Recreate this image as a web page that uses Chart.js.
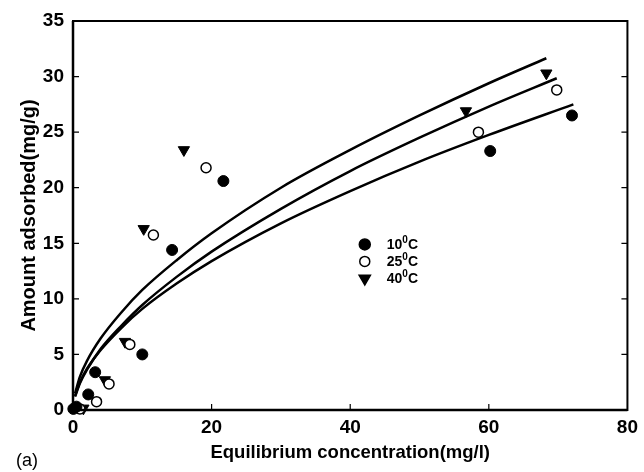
<!DOCTYPE html>
<html>
<head>
<meta charset="utf-8">
<script src="https://cdn.jsdelivr.net/npm/chart.js@4.4.1/dist/chart.umd.min.js"></script>
<style>
  html, body { margin: 0; padding: 0; background: #fff; }
  #wrap { width: 644px; height: 472px; position: relative; }
</style>
</head>
<body>
<div id="wrap"><canvas id="c" width="644" height="472"></canvas></div>
<script>
// Adsorption measurements: equilibrium concentration (mg/l) vs amount adsorbed (mg/g)
const conc10 = [0.05, 0.5, 2.2, 3.2, 10.0, 14.3, 21.7, 60.2, 72.0];
const ads10  = [0.1, 0.3, 1.4, 3.4, 5.0, 14.4, 20.6, 23.3, 26.5];

const conc25 = [1.0, 3.4, 5.2, 8.2, 11.6, 19.2, 58.5, 69.8];
const ads25  = [0.1, 0.75, 2.35, 5.9, 15.75, 21.8, 25.0, 28.8];

const conc40 = [1.5, 4.6, 7.5, 10.2, 16.0, 56.7, 68.3];
const ads40  = [0.15, 2.7, 6.15, 16.3, 23.4, 26.9, 30.3];

// Isotherm model curves
const curveTopX = [0.3, 1, 2, 4, 7, 10, 15, 20, 30, 40, 50, 60, 68.3];
const curveTopY = [1.5, 3.0, 4.4, 6.45, 8.8, 10.8, 13.5, 15.9, 20.0, 23.4, 26.5, 29.4, 31.65];

const curveMidX = [0.3, 1, 2, 4, 7, 10, 15, 20, 30, 40, 50, 60, 69.8];
const curveMidY = [1.2, 2.4, 3.6, 5.5, 7.6, 9.45, 12.0, 14.25, 18.1, 21.5, 24.5, 27.3, 29.85];

const curveLowX = [0.3, 1, 2, 4, 7, 10, 15, 20, 30, 40, 50, 60, 72.2];
const curveLowY = [1.27, 2.5, 3.7, 5.4, 7.4, 9.1, 11.4, 13.4, 16.8, 19.7, 22.35, 24.75, 27.5];

const xTicks = [0, 20, 40, 60, 80];
const yTicks = [0, 5, 10, 15, 20, 25, 30, 35];

const legendItems = [
  { base: '10', style: 'circle', fill: '#000', rot: 0, r: 5.5 },
  { base: '25', style: 'circle', fill: '#fff', rot: 0, r: 5 },
  { base: '40', style: 'triangle', fill: '#000', rot: 180, r: 6.5 }
];

const FONT = "'Liberation Sans', Arial, Helvetica, sans-serif";

function pairs(xs, ys) { return xs.map((x, i) => ({ x: x, y: ys[i] })); }

function curve(xs, ys) {
  return {
    type: 'line', data: pairs(xs, ys), showLine: true,
    borderColor: '#000', borderWidth: 2.5, pointRadius: 0,
    cubicInterpolationMode: 'monotone', fill: false, order: 2
  };
}

// Frame, inward ticks, legend and panel tag
const decor = {
  id: 'decor',
  afterDraw(chart) {
    const ctx = chart.ctx;
    const a = chart.chartArea;
    const xs = chart.scales.x, ys = chart.scales.y;
    ctx.save();
    ctx.strokeStyle = '#000';
    ctx.lineCap = 'butt';
    // box
    ctx.lineWidth = 2;
    ctx.strokeRect(a.left, a.top, a.right - a.left, a.bottom - a.top);
    ctx.lineWidth = 2.5;
    ctx.beginPath();
    ctx.moveTo(a.left, a.top); ctx.lineTo(a.left, a.bottom); ctx.lineTo(a.right, a.bottom);
    ctx.stroke();
    // inward ticks
    ctx.lineWidth = 1.2;
    ctx.beginPath();
    xTicks.slice(1, -1).forEach(v => {
      const px = xs.getPixelForValue(v);
      ctx.moveTo(px, a.bottom); ctx.lineTo(px, a.bottom - 6);
    });
    yTicks.slice(1, -1).forEach(v => {
      const py = ys.getPixelForValue(v);
      ctx.moveTo(a.left, py); ctx.lineTo(a.left + 6, py);
      ctx.moveTo(a.right, py); ctx.lineTo(a.right - 6, py);
    });
    ctx.stroke();

    // legend
    const lx = xs.getPixelForValue(42.1);
    let ly = ys.getPixelForValue(14.9);
    const step = 17;
    legendItems.forEach(it => {
      ctx.fillStyle = it.fill;
      ctx.strokeStyle = '#000';
      ctx.lineWidth = 1.5;
      Chart.helpers.drawPoint(ctx, { pointStyle: it.style, radius: it.r, rotation: it.rot, borderWidth: 1.5 }, lx, ly);
      ctx.fillStyle = '#000';
      ctx.textBaseline = 'middle';
      ctx.textAlign = 'left';
      ctx.font = 'bold 14px ' + FONT;
      let tx = lx + 22;
      ctx.fillText(it.base, tx, ly + 1);
      tx += ctx.measureText(it.base).width;
      ctx.font = 'bold 10px ' + FONT;
      ctx.fillText('0', tx, ly - 4);
      tx += ctx.measureText('0').width;
      ctx.font = 'bold 14px ' + FONT;
      ctx.fillText('C', tx, ly + 1);
      ly += step;
    });

    // panel tag
    ctx.font = '18px ' + FONT;
    ctx.textAlign = 'left';
    ctx.textBaseline = 'alphabetic';
    ctx.fillText('(a)', 16, 466);
    ctx.restore();
  }
};

new Chart(document.getElementById('c'), {
  type: 'scatter',
  data: {
    datasets: [
      {
        label: '10\u00B0C', data: pairs(conc10, ads10), pointStyle: 'circle',
        pointRadius: 5.5, backgroundColor: '#000', borderColor: '#000', borderWidth: 1,
        clip: false, order: 1
      },
      {
        label: '25\u00B0C', data: pairs(conc25, ads25), pointStyle: 'circle',
        pointRadius: 5, backgroundColor: '#fff', borderColor: '#000', borderWidth: 1.5,
        clip: false, order: 1
      },
      {
        label: '40\u00B0C', data: pairs(conc40, ads40), pointStyle: 'triangle',
        rotation: 180, pointRadius: 6.5, backgroundColor: '#000', borderColor: '#000', borderWidth: 1,
        clip: false, order: 1
      },
      curve(curveTopX, curveTopY),
      curve(curveMidX, curveMidY),
      curve(curveLowX, curveLowY)
    ]
  },
  options: {
    responsive: false,
    animation: false,
    devicePixelRatio: 1,
    layout: { padding: { left: 0, top: 21, right: 13, bottom: 0 } },
    plugins: { legend: { display: false }, tooltip: { enabled: false } },
    scales: {
      x: {
        type: 'linear', min: 0, max: 80,
        afterBuildTicks: s => { s.ticks = xTicks.map(v => ({ value: v })); },
        afterFit: s => { s.height = 62; },
        grid: { display: false, drawTicks: false },
        border: { display: false },
        ticks: { padding: 6, color: '#000', font: { family: FONT, size: 19, weight: 'bold' } },
        title: {
          display: true, text: 'Equilibrium concentration(mg/l)', color: '#000',
          font: { family: FONT, size: 18.5, weight: 'bold' }, padding: { top: 0, bottom: 8 }
        }
      },
      y: {
        type: 'linear', min: 0, max: 35,
        afterBuildTicks: s => { s.ticks = yTicks.map(v => ({ value: v })); },
        afterFit: s => { s.width = 73; },
        grid: { display: false, drawTicks: false },
        border: { display: false },
        ticks: { padding: 9, color: '#000', font: { family: FONT, size: 19, weight: 'bold' } },
        title: {
          display: true, text: 'Amount adsorbed(mg/g)', color: '#000',
          font: { family: FONT, size: 20, weight: 'bold' }, padding: { top: 17, bottom: 0 }
        }
      }
    }
  },
  plugins: [decor]
});
</script>
</body>
</html>
